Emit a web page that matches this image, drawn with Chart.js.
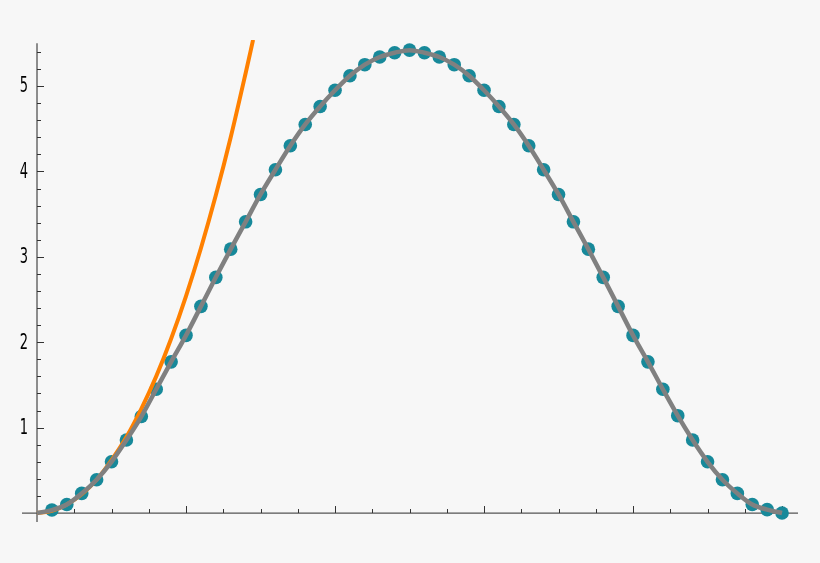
<!DOCTYPE html>
<html>
<head>
<meta charset="utf-8">
<script src="https://cdn.jsdelivr.net/npm/chart.js@4.4.0/dist/chart.umd.min.js"></script>
<style>
  html, body { margin: 0; padding: 0; background: #f7f7f7; }
  #plot { display: block; }
</style>
</head>
<body>
<canvas id="plot" width="820" height="563"></canvas>
<script>
// sample positions and the values
const xValues = [0.1, 0.2, 0.3, 0.4, 0.5, 0.6, 0.7, 0.8, 0.9, 1.0,
                 1.1, 1.2, 1.3, 1.4, 1.5, 1.6, 1.7, 1.8, 1.9, 2.0,
                 2.1, 2.2, 2.3, 2.4, 2.5, 2.6, 2.7, 2.8, 2.9, 3.0,
                 3.1, 3.2, 3.3, 3.4, 3.5, 3.6, 3.7, 3.8, 3.9, 4.0,
                 4.1, 4.2, 4.3, 4.4, 4.5, 4.6, 4.7, 4.8, 4.9, 5.0];
const sampleValues = [0.035, 0.10, 0.23, 0.39, 0.60, 0.855, 1.13, 1.45, 1.77, 2.08,
                      2.42, 2.76, 3.09, 3.41, 3.73, 4.02, 4.30, 4.55, 4.76, 4.95,
                      5.12, 5.25, 5.34, 5.39, 5.42, 5.39, 5.34, 5.25, 5.12, 4.95,
                      4.76, 4.55, 4.30, 4.02, 3.73, 3.41, 3.09, 2.76, 2.42, 2.08,
                      1.77, 1.45, 1.14, 0.855, 0.60, 0.39, 0.23, 0.10, 0.04, 0.0];

// orange approximation curve (runs off the top of the plot)
const approxX = [0, 0.1, 0.2, 0.3, 0.4, 0.5, 0.6, 0.7, 0.8, 0.9, 1.0, 1.1, 1.2, 1.3, 1.4, 1.45];
const approxValues = [0, 0.025, 0.10, 0.22, 0.39, 0.62, 0.89, 1.22, 1.60, 2.04, 2.54, 3.10, 3.72, 4.40, 5.15, 5.54];

const xMajorTicks = [1, 2, 3, 4, 5];
const yMajorTicks = [1, 2, 3, 4, 5];
const yTickLabels = ['1', '2', '3', '4', '5'];

const curveX = [0, ...xValues];
const curveValues = [0, ...sampleValues];

function toPoints(xs, ys) {
    return xs.map((x, i) => ({ x: x, y: ys[i] }));
}

// Mathematica style axes crossing at the origin, drawn under the data
const originAxes = {
    id: 'originAxes',
    beforeDatasetsDraw(chart) {
        const ctx = chart.ctx;
        const xs = chart.scales.x;
        const ys = chart.scales.y;
        const area = chart.chartArea;
        const x0 = xs.getPixelForValue(0);
        const y0 = ys.getPixelForValue(0);

        ctx.save();
        ctx.strokeStyle = '#555555';
        ctx.lineWidth = 1.3;
        ctx.beginPath();
        ctx.moveTo(area.left, y0);
        ctx.lineTo(area.right, y0);
        ctx.moveTo(x0, ys.getPixelForValue(5.5));
        ctx.lineTo(x0, area.bottom);
        ctx.stroke();

        ctx.strokeStyle = '#333333';
        ctx.lineWidth = 1;
        ctx.beginPath();
        // x ticks: majors every 1, minors every 0.25
        for (let i = 1; i <= 20; i++) {
            const v = i * 0.25;
            const px = Math.round(xs.getPixelForValue(v)) + 0.5;
            const len = (i % 4 === 0) ? 7 : 4;
            ctx.moveTo(px, y0);
            ctx.lineTo(px, y0 - len);
        }
        // y ticks: majors every 1, minors every 0.2
        for (let i = 1; i <= 27; i++) {
            const v = i * 0.2;
            const py = Math.round(ys.getPixelForValue(v)) + 0.5;
            const len = (i % 5 === 0) ? 7 : 4;
            ctx.moveTo(x0, py);
            ctx.lineTo(x0 + len, py);
        }
        ctx.stroke();

        // narrow tick labels, squeezed sideways like the original
        ctx.fillStyle = '#000000';
        ctx.font = '21px "DejaVu Sans", sans-serif';
        ctx.textAlign = 'right';
        ctx.textBaseline = 'middle';
        yMajorTicks.forEach((v, i) => {
            ctx.save();
            ctx.translate(x0 - 9, ys.getPixelForValue(v) + 1);
            ctx.scale(0.62, 1);
            ctx.fillText(yTickLabels[i], 0, 0);
            ctx.restore();
        });
        ctx.restore();
    }
};

const chart = new Chart(document.getElementById('plot'), {
    type: 'scatter',
    data: {
        datasets: [
            {
                label: 'curve',
                data: toPoints(curveX, curveValues),
                showLine: true,
                borderColor: '#808080',
                borderWidth: 4.5,
                pointRadius: 0,
                cubicInterpolationMode: 'monotone',
                order: 0
            },
            {
                label: 'approximation',
                data: toPoints(approxX, approxValues),
                showLine: true,
                borderColor: '#ff8000',
                borderWidth: 4,
                pointRadius: 0,
                cubicInterpolationMode: 'monotone',
                clip: 0,
                order: 1
            },
            {
                label: 'samples',
                data: toPoints(xValues, sampleValues),
                showLine: false,
                backgroundColor: '#17899a',
                borderWidth: 0,
                pointRadius: 6.8,
                clip: false,
                order: 2
            }
        ]
    },
    options: {
        responsive: false,
        animation: false,
        layout: { padding: { left: 22, right: 22, top: 40, bottom: 41 } },
        plugins: {
            legend: { display: false },
            tooltip: { enabled: false }
        },
        scales: {
            x: { type: 'linear', display: false, min: -0.1007, max: 5.107 },
            y: { type: 'linear', display: false, min: -0.105, max: 5.539 }
        }
    },
    plugins: [originAxes]
});
</script>
</body>
</html>
